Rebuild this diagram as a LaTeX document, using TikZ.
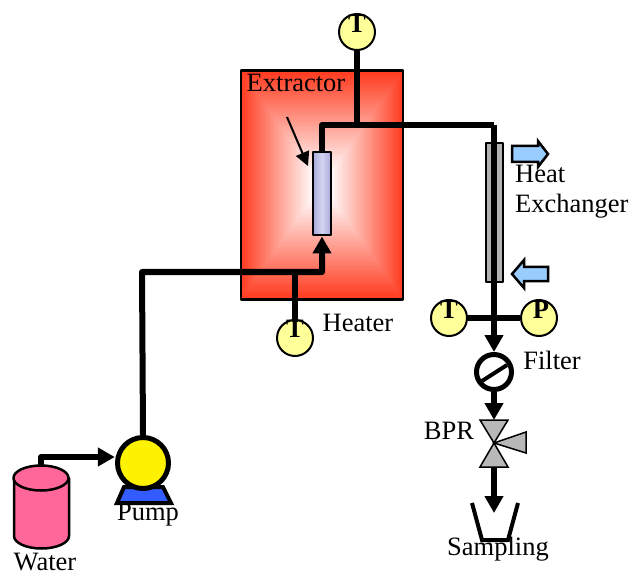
\documentclass[tikz,border=0pt]{standalone}
\usepackage{fontspec}
\setmainfont{Liberation Serif}
\usetikzlibrary{arrows.meta}
\definecolor{heatred}{HTML}{FF3A1E}
\definecolor{gaugeyellow}{HTML}{FFFF99}
\definecolor{tankpink}{HTML}{FF6699}
\definecolor{coolblue}{HTML}{99CCFF}
\definecolor{columnblue}{HTML}{A8A8DC}
\definecolor{columnpale}{HTML}{D4D4F0}
\tikzset{
	txt/.style={font=\fontsize{26.5}{30}\selectfont,inner sep=0pt},
	gaugetxt/.style={font=\fontsize{26.5}{30}\selectfont\bfseries,inner sep=0pt},
	gauge/.style={circle,draw=black,line width=2pt,fill=gaugeyellow,minimum size=36pt,inner sep=0pt},
	pipe/.style={line width=6pt,draw=black},
	flowarrow/.style={line width=2.5pt,draw=black,fill=coolblue,line join=miter},
	valve/.style={line width=1.5pt,draw=black,fill=black!28,line join=miter}
}
\begin{document}
\begin{tikzpicture}[line cap=butt,line join=round,>={Triangle[width=18pt,length=17pt]},x=1pt,y=-1pt]
	\useasboundingbox (0,0) rectangle (632,572);
	% heater block
	\foreach \i in {0,...,50}{
		\pgfmathsetmacro{\fr}{1-\i/50}
		\pgfmathsetmacro{\pc}{max(0,100*(\fr-0.1)/0.9)}
		\fill [heatred!\pc!white] (322-82*\fr,185-115*\fr) rectangle (322+82*\fr,185+115*\fr);
	}
	\node (heater) [draw=black,line width=2.5pt,minimum width=162pt,minimum height=229pt,inner sep=0pt] at (322,185) {};
	% items
	\node (column) [draw=black,line width=2pt,left color=columnblue,right color=columnblue,middle color=columnpale,minimum width=18pt,minimum height=83pt,inner sep=0pt] at (322,194) {};
	\node (hx) [draw=black,line width=2pt,fill=black!30,minimum width=17pt,minimum height=138pt,inner sep=0pt] at (494,212.5) {};
	\node (gaugeTop) [gauge] at (357,32) {};
	\node (gaugeLow) [gauge] at (295,338) {};
	\node (gaugeT) [gauge] at (449,318) {};
	\node (gaugeP) [gauge] at (539,318) {};
	\node (filter) [circle,draw=black,line width=5pt,fill=white,minimum size=35pt,inner sep=0pt] at (494,372) {};
	\node (pump) [circle,minimum size=56pt,inner sep=0pt] at (143,463) {};
	\coordinate (valveC) at (494,443);
	\coordinate (valveIn) at (494,420);
	\coordinate (valveOut) at (494,467);
	\coordinate (tankTop) at (41,466);
	\coordinate (teeIn) at (295,272);
	\coordinate (bendIn) at (322,272);
	\coordinate (bendOut) at (322,125);
	\coordinate (teeOut) at (357,125);
	\coordinate (bendHx) at (494,125);
	\coordinate (cupIn) at (494,513);
	\coordinate (noteFrom) at (287,117);
	\coordinate (noteTo) at (308,166);
	% pipes
	\draw [pipe] (gaugeTop.south)-- (teeOut);
	\draw [pipe] (column.north)-- (bendOut)-- (bendHx);
	\draw [pipe,->] (bendHx)-- (filter.north);
	\draw [pipe] (gaugeT)-- (gaugeP);
	\draw [pipe,->] (pump.north)-- (142,272)-- (bendIn)-- (column.south);
	\draw [pipe] (teeIn)-- (295,322);
	\draw [pipe,->] (tankTop)-- (41,457)-- (pump.west |- 0,457);
	\draw [pipe,->] (filter.south)-- (valveIn);
	\draw [pipe,->] (valveOut)-- (cupIn);
	\draw [line width=2pt,-{Triangle[width=14pt,length=14pt]}] (noteFrom)-- (noteTo);
	% filter slash
	\draw [line width=4pt] (482,381)-- (507,365);
	% water tank
	\draw [line width=2.5pt,fill=tankpink] (14,478)-- (14,536) arc (180:360:27.5pt and 12.5pt)-- (69,478)-- cycle;
	\draw [line width=2.5pt,fill=tankpink] (41,478) ellipse (27.5pt and 12.5pt);
	% pump body
	\draw [line width=4pt,fill=blue!80!cyan!80!white,line join=miter] (124,487)-- (117,503)-- (171,503)-- (163,487)-- cycle;
	\draw [line width=5pt,fill=yellow] (143,463) circle (25.5pt);
	% valve
	\draw [valve] (480,420)-- (508,420)-- (valveC)-- cycle;
	\draw [valve] (480,467)-- (508,467)-- (valveC)-- cycle;
	\draw [valve] (valveC)-- (526,432)-- (526,453)-- cycle;
	% sampling cup
	\draw [line width=4pt,line join=miter] (472,503)-- (482,540)-- (508,540)-- (518,503);
	% flow arrows
	\draw [flowarrow] (512,146)-- (538,146)-- (538,141)-- (548,154)-- (538,167)-- (538,162)-- (512,162)-- cycle;
	\draw [flowarrow] (548,267)-- (524,267)-- (524,260)-- (512,274)-- (524,288)-- (524,281)-- (548,281)-- cycle;
	% labels
	\node (lblExtractor) [txt] at (296,83) {Extractor};
	\node (lblHeater) [txt] at (358,323) {Heater};
	\node (lblFilter) [txt] at (552,360) {Filter};
	\node (lblBPR) [txt] at (449,431) {BPR};
	\node (lblSampling) [txt] at (498,549) {Sampling};
	\node (lblWater) [txt] at (45,562) {Water};
	\node (lblPump) [txt] at (148,515) {Pump};
	\node (lblHeat) [txt,anchor=west] at (515,174) {Heat};
	\node (lblExchanger) [txt,anchor=west] at (515,206) {Exchanger};
	\node (lblTop) [gaugetxt] at (357,24) {T};
	\node (lblLow) [gaugetxt] at (295,329) {T};
	\node (lblT) [gaugetxt] at (449,310) {T};
	\node (lblP) [gaugetxt] at (541,310) {P};
\end{tikzpicture}
\end{document}
